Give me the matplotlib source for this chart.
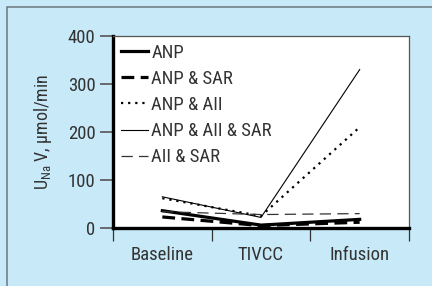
import matplotlib.pyplot as plt
from matplotlib import font_manager
from matplotlib.patches import Rectangle

# data
phases = ['Baseline', 'TIVCC', 'Infusion']
anp = [36, 6, 18]
anp_sar = [23, 5, 12]
anp_aii = [62, 25, 210]
anp_aii_sar = [65, 22, 330]
aii_sar = [34, 28, 30]

series = [
    ('ANP', anp, dict(color='black', lw=2.3, ls='-')),
    ('ANP & SAR', anp_sar, dict(color='black', lw=2.3, ls=(0, (4, 2)))),
    ('ANP & AII', anp_aii, dict(color='black', lw=1.6, ls=(0, (1, 2.2)))),
    ('ANP & AII & SAR', anp_aii_sar, dict(color='black', lw=0.8, ls='-')),
    ('AII & SAR', aii_sar, dict(color='#333333', lw=0.9, ls=(0, (9, 5)))),
]

# a condensed face if there is one
names = {f.name for f in font_manager.fontManager.ttflist}
font = 'Liberation Sans'
for cand in ['Liberation Sans Narrow', 'Roboto Condensed', 'Open Sans Condensed',
             'DejaVu Sans Condensed', 'Noto Sans Condensed']:
    if cand in names:
        font = cand
        break
narrow = [f for f in font_manager.fontManager.ttflist
          if 'Condensed' in f.name or 'Narrow' in f.name or f.stretch not in ('normal', 400)]
if font == 'Liberation Sans' and narrow:
    font = narrow[0].name

plt.rcParams['font.family'] = [font, 'DejaVu Sans']
plt.rcParams['font.stretch'] = 'condensed'
plt.rcParams['mathtext.fontset'] = 'custom'
plt.rcParams['mathtext.rm'] = font

bg = '#c8e9f8'
fig = plt.figure(figsize=(4.32, 2.86), dpi=100, facecolor=bg)
# frame round the figure
fig.patches.append(Rectangle((7 / 432, -0.1), 1.2, 1 - 7 / 286 + 0.1,
                             transform=fig.transFigure, fill=False,
                             ec='#6b7880', lw=1.1))

ax = fig.add_axes([113 / 432, 58 / 286, 296 / 432, 192 / 286])
ax.set_facecolor('white')

x = [i + 0.5 for i in range(len(phases))]
for name, vals, style in series:
    ax.plot(x, vals, label=name, **style)

ax.set_xlim(0, 3)
ax.set_ylim(0, 400)
ax.set_yticks([0, 100, 200, 300, 400])

ax.set_xticks([0, 1, 2, 3])
ax.set_xticklabels([])
ax.set_xticks(x, minor=True)
ax.set_xticklabels(phases, minor=True)
ax.tick_params(axis='x', which='major', direction='out', length=9.5,
               width=0.9, color='#333333')
ax.tick_params(axis='x', which='minor', length=0, pad=13,
               labelsize=13.5, labelcolor='#333333')
ax.tick_params(axis='y', direction='out', length=9.5, width=1.2,
               color='#555555', pad=3, labelsize=13.5, labelcolor='#333333')

for side in ['left', 'bottom']:
    ax.spines[side].set_linewidth(2.4)
    ax.spines[side].set_color('black')
for side in ['top', 'right']:
    ax.spines[side].set_linewidth(0.9)
    ax.spines[side].set_color('#555555')

ax.set_ylabel(r'U$_{\mathrm{Na}}$ V, μmol/min', fontsize=13,
              color='#333333', labelpad=10)

ax.legend(loc='upper left', frameon=False, fontsize=13.5, handlelength=1.45,
          handletextpad=0.2, labelspacing=0.44, borderaxespad=0.1,
          borderpad=0.3, labelcolor='#333333')

fig.savefig('out.png', dpi=100, facecolor=bg)
